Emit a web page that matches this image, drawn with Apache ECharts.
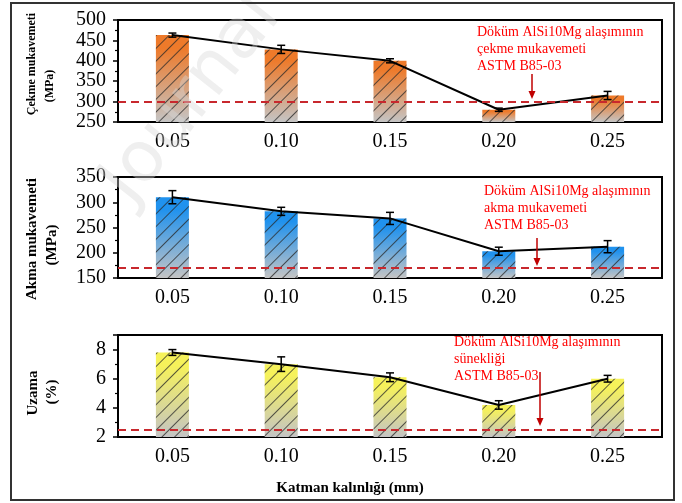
<!DOCTYPE html>
<html><head><meta charset="utf-8">
<script src="https://cdn.jsdelivr.net/npm/echarts@6/dist/echarts.min.js"></script>
<style>html,body{margin:0;padding:0;background:#fff}#c{width:682px;height:503px}</style>
</head><body><div id="c"></div>
<script>
// ---- data ----
const categories = ['0.05', '0.10', '0.15', '0.20', '0.25'];
const tensile = [463, 428, 400, 280, 315];
const tensileErr = [5, 10, 5, 4, 10];
const yieldStr = [310, 282, 268, 203, 212];
const yieldErr = [13, 8, 12, 8, 12];
const elong = [7.8, 7.0, 6.1, 4.2, 6.0];
const elongErr = [0.2, 0.5, 0.3, 0.29, 0.23];
const refTensile = 300;
const refYield = 170;
const refElong = 2.5;
const tensileAxis = [250, 500, 50];
const yieldAxis = [150, 350, 50];
const elongAxis = [2, 9, 2];
const yNames = [['Çekme mukavemeti', '(MPa)'], ['Akma mukavemeti', '(MPa)'], ['Uzama', '(%)']];
const xName = 'Katman kalınlığı (mm)';
const notes = [
  'Döküm AlSi10Mg alaşımının\nçekme mukavemeti\nASTM B85-03',
  'Döküm AlSi10Mg alaşımının\nakma mukavemeti\nASTM B85-03',
  'Döküm AlSi10Mg alaşımının\nsünekliği\nASTM B85-03'
];

const SERIF = '"Liberation Serif", "Times New Roman", serif';
const chart = echarts.init(document.getElementById('c'));

const grids = [
  { left: 118, right: 20, top: 20, height: 102 },
  { left: 118, right: 20, top: 177, height: 101 },
  { left: 118, right: 20, top: 335, height: 102 }
].map(g => Object.assign(g, { show: true, borderColor: '#000', borderWidth: 2, backgroundColor: 'transparent' }));

const xAxes = [0, 1, 2].map(i => ({
  type: 'category', gridIndex: i, data: categories,
  axisLine: { lineStyle: { color: '#000', width: 2 } },
  axisTick: { alignWithLabel: true, length: 5, lineStyle: { color: '#000', width: 1.5 } },
  axisLabel: { color: '#000', fontFamily: SERIF, fontSize: 20, margin: 10 },
  splitLine: { show: false }
}));

function yAx(i, ax, showMax) {
  return {
    type: 'value', gridIndex: i, min: ax[0], max: ax[1], interval: ax[2],
    axisLine: { show: true, lineStyle: { color: '#000', width: 2 } },
    axisTick: { show: true, length: 5, lineStyle: { color: '#000', width: 1.5 } },
    minorTick: { show: true, splitNumber: 2, length: 3, lineStyle: { color: '#000', width: 1.2 } },
    axisLabel: { color: '#000', fontFamily: SERIF, fontSize: 20, margin: 12, showMaxLabel: showMax },
    splitLine: { show: false }
  };
}
const yAxes = [yAx(0, tensileAxis, true), yAx(1, yieldAxis, true), yAx(2, elongAxis, false)];

function grad(top) {
  return new echarts.graphic.LinearGradient(0, 0, 0, 1, [
    { offset: 0, color: top }, { offset: 0.15, color: top }, { offset: 1, color: '#c4c4c4' }
  ]);
}
const decal = { symbol: 'rect', symbolSize: 1, dashArrayX: [1, 0], dashArrayY: [1, 8], rotation: -Math.PI / 4, color: 'rgba(40,40,40,0.75)' };

function barSeries(i, vals, top, ref) {
  return {
    type: 'bar', xAxisIndex: i, yAxisIndex: i, data: vals, barWidth: 33, z: 2,
    itemStyle: { color: grad(top), decal: decal },
    markLine: {
      silent: true, symbol: 'none', label: { show: false },
      lineStyle: { color: '#c8282d', type: [8, 5], width: 2 },
      data: [{ yAxis: ref }]
    }
  };
}
function lineSeries(i, vals) {
  return { type: 'line', xAxisIndex: i, yAxisIndex: i, data: vals, symbol: 'none', z: 4,
    lineStyle: { color: '#000', width: 2 } };
}
function errSeries(i, vals, errs) {
  return {
    type: 'custom', xAxisIndex: i, yAxisIndex: i, z: 5,
    data: vals.map((v, k) => [k, v - errs[k], v + errs[k]]),
    renderItem(params, api) {
      const x = api.value(0);
      const lo = api.coord([x, api.value(1)]);
      const hi = api.coord([x, api.value(2)]);
      const w = 4, st = { stroke: '#000', lineWidth: 1.5 };
      return { type: 'group', children: [
        { type: 'line', shape: { x1: lo[0], y1: lo[1], x2: hi[0], y2: hi[1] }, style: st },
        { type: 'line', shape: { x1: lo[0] - w, y1: lo[1], x2: lo[0] + w, y2: lo[1] }, style: st },
        { type: 'line', shape: { x1: hi[0] - w, y1: hi[1], x2: hi[0] + w, y2: hi[1] }, style: st }
      ] };
    }
  };
}

function arrow(x, y1, y2) {
  return [
    { type: 'line', shape: { x1: x, y1: y1, x2: x, y2: y2 - 6 }, style: { stroke: '#c00000', lineWidth: 1.5 }, z: 20 },
    { type: 'polygon', shape: { points: [[x - 3.5, y2 - 8], [x + 3.5, y2 - 8], [x, y2]] }, style: { fill: '#c00000' }, z: 20 }
  ];
}
function yName(x, y, t, size) {
  return { type: 'text', x: x, y: y, rotation: Math.PI / 2, z: 20,
    style: { text: t, fill: '#000', font: 'bold ' + size + 'px ' + SERIF, align: 'center', verticalAlign: 'middle' } };
}
function note(x, y, t) {
  return { type: 'text', x: x, y: y, z: 20,
    style: { text: t, fill: '#ff0000', font: '14px ' + SERIF, lineHeight: 17, align: 'left', verticalAlign: 'top' } };
}

const graphic = [
  { type: 'rect', shape: { x: 11, y: 3, width: 663, height: 497 }, style: { fill: 'none', stroke: '#333', lineWidth: 2 }, z: 30 },
  { type: 'text', x: 192, y: 100, rotation: 0.9, z: 25,
    style: { text: 'Journal', fill: 'rgba(215,215,215,0.4)', font: '70px "DejaVu Sans", sans-serif', align: 'center', verticalAlign: 'middle' } },
  yName(32, 64, yNames[0][0], 12), yName(50, 86, yNames[0][1], 12),
  yName(32, 239, yNames[1][0], 15), yName(52, 245, yNames[1][1], 15),
  yName(33, 393, yNames[2][0], 15), yName(52, 392, yNames[2][1], 15),
  { type: 'text', x: 350, y: 488, z: 20,
    style: { text: xName, fill: '#000', font: 'bold 15px ' + SERIF, align: 'center', verticalAlign: 'middle' } },
  note(477, 24, notes[0]), note(484, 183, notes[1]), note(454, 334, notes[2]),
  ...arrow(532, 74, 99), ...arrow(537, 238, 266), ...arrow(540, 372, 426)
];

chart.setOption({
  animation: false,
  grid: grids, xAxis: xAxes, yAxis: yAxes,
  series: [
    barSeries(0, tensile, '#ee7a2a', refTensile), lineSeries(0, tensile), errSeries(0, tensile, tensileErr),
    barSeries(1, yieldStr, '#2092ee', refYield), lineSeries(1, yieldStr), errSeries(1, yieldStr, yieldErr),
    barSeries(2, elong, '#f6f25a', refElong), lineSeries(2, elong), errSeries(2, elong, elongErr)
  ],
  graphic: graphic
});
</script></body></html>
